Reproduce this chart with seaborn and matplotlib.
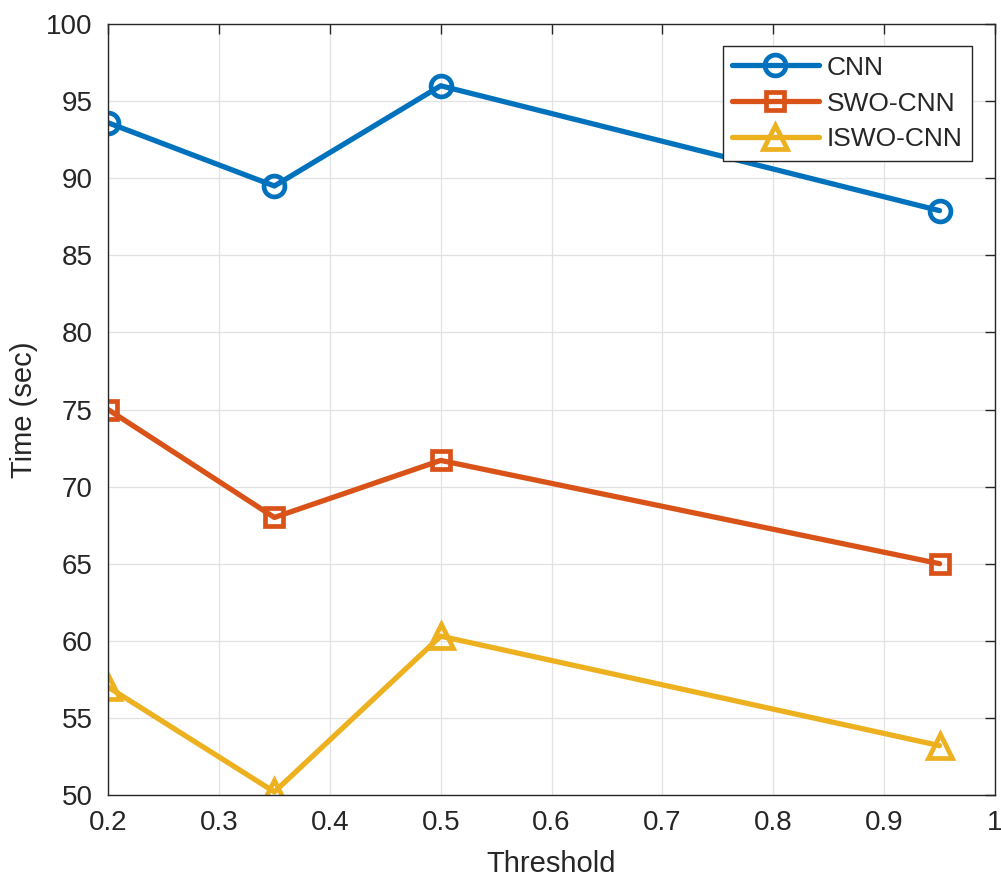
import matplotlib
matplotlib.use("Agg")
import matplotlib.pyplot as plt
import seaborn as sns
import pandas as pd

# data
thresholds = [0.2, 0.35, 0.5, 0.95]
cnn_time = [93.6, 89.5, 96.0, 87.9]
swo_cnn_time = [75.0, 68.0, 71.7, 65.0]
iswo_cnn_time = [57.0, 50.2, 60.3, 53.2]

series_names = ["CNN", "SWO-CNN", "ISWO-CNN"]
series_values = [cnn_time, swo_cnn_time, iswo_cnn_time]
series_colors = ["#0072BD", "#D95319", "#EDB120"]
series_markers = ["o", "s", "^"]
series_msize = [15, 13, 17]

x_ticks = [0.2, 0.3, 0.4, 0.5, 0.6, 0.7, 0.8, 0.9, 1.0]
x_tick_labels = ["0.2", "0.3", "0.4", "0.5", "0.6", "0.7", "0.8", "0.9", "1"]
y_ticks = [50, 55, 60, 65, 70, 75, 80, 85, 90, 95, 100]

sns.set_style("white")
plt.rcParams["font.family"] = ["Liberation Sans", "DejaVu Sans"]

fig = plt.figure(figsize=(10.01, 8.83), dpi=100)
ax = fig.add_axes([0.108, 0.0997, 0.886, 0.873])

for name, vals, color, marker, ms in zip(series_names, series_values, series_colors,
                                         series_markers, series_msize):
    df = pd.DataFrame({"Threshold": thresholds, "Time": vals})
    sns.lineplot(data=df, x="Threshold", y="Time", ax=ax, color=color,
                 marker=marker, markersize=ms, markeredgecolor=color,
                 markerfacecolor="none", markeredgewidth=3.4,
                 linewidth=3.8, label=name)

ax.set_xlim(0.2, 1.0)
ax.set_ylim(50, 100)
ax.set_xticks(x_ticks)
ax.set_xticklabels(x_tick_labels)
ax.set_yticks(y_ticks)
ax.grid(True, color="#e2e2e2", linewidth=0.9)
ax.set_axisbelow(True)
ax.tick_params(direction="in", length=7, width=1.0, labelsize=20,
               top=True, right=True, colors="#262626")
ax.tick_params(axis="x", pad=11)
ax.tick_params(axis="y", pad=11)
for sp in ax.spines.values():
    sp.set_visible(True)
    sp.set_color("#262626")
    sp.set_linewidth(1.0)

ax.set_xlabel("Threshold", fontsize=21, color="#262626", labelpad=10)
ax.set_ylabel("Time (sec)", fontsize=21, color="#262626", labelpad=6)

leg = ax.legend(loc="upper right", bbox_to_anchor=(0.974, 0.971), fontsize=19,
                frameon=True, fancybox=False, framealpha=1, edgecolor="#262626",
                handlelength=3.3, borderpad=0.35, labelspacing=0.45, handletextpad=0.3,
                borderaxespad=0.0)
leg.get_frame().set_linewidth(1.0)

fig.savefig("out.png", dpi=100)
